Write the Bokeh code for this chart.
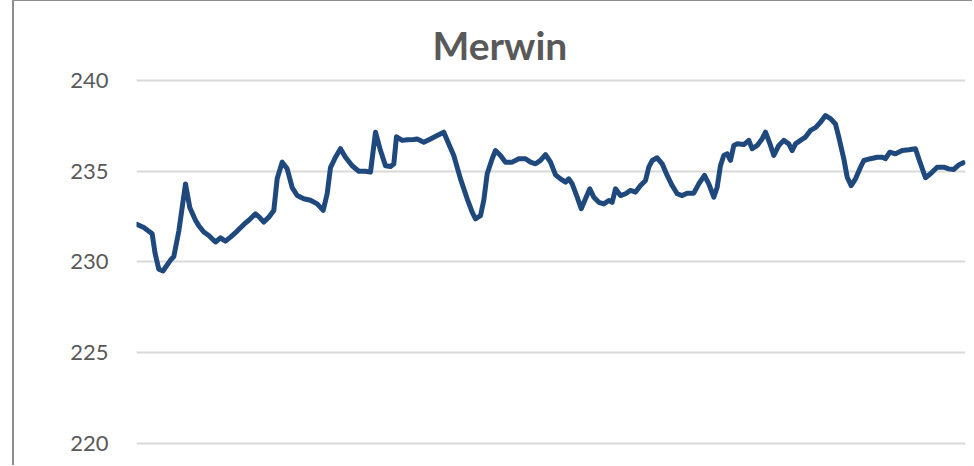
from bokeh.plotting import figure
from bokeh.models import FixedTicker, Range1d, Title
from bokeh.embed import file_html
from bokeh.resources import INLINE

# Day index (0..180) and water level readings
day = [0, 1.44, 3.27, 3.88, 4.71, 5.62, 7.26, 7.98, 9.07, 10.53, 11.46, 12.7, 13.42, 14.51,
       15.6, 17.06, 18.15, 19.24, 20.33, 21.79, 23.23, 24.32, 25.78, 26.5, 27.59, 28.68,
       29.77, 30.51, 31.6, 32.69, 33.78, 34.87, 36.3, 37.76, 39.22, 40.53, 41.4, 42.12,
       43.21, 44.3, 45.39, 46.85, 48.29, 49.75, 50.84, 51.93, 53.02, 54.11, 55.2, 55.92,
       56.5, 57.75, 58.84, 60.27, 61.01, 62.45, 63.91, 65.37, 66.81, 67.9, 68.99, 70.45,
       71.91, 73.0, 73.72, 74.81, 75.53, 76.27, 77.36, 78.08, 79.17, 80.26, 81.72, 83.16,
       84.62, 85.71, 86.8, 87.89, 88.98, 90.07, 91.16, 92.25, 93.34, 94.05, 94.79, 95.88,
       96.76, 97.69, 98.63, 99.5, 100.59, 101.68, 102.77, 103.51, 104.23, 105.32, 106.41,
       107.5, 108.59, 109.68, 110.77, 111.48, 112.22, 113.31, 114.4, 115.49, 116.58,
       117.67, 118.76, 119.85, 121.29, 122.38, 123.62, 124.56, 125.65, 126.39, 127.11,
       127.83, 128.57, 129.29, 130.01, 130.75, 132.19, 133.28, 134.02, 135.11, 136.2,
       136.92, 138.01, 138.73, 139.82, 140.9, 141.99, 142.73, 143.45, 144.54, 145.63,
       146.72, 147.81, 148.9, 149.99, 151.08, 152.17, 152.89, 153.98, 154.72, 155.59,
       156.53, 157.62, 158.34, 159.8, 161.26, 162.35, 163.07, 164.01, 165.25, 166.71,
       168.15, 169.6, 170.32, 171.78, 172.87, 174.33, 175.77, 176.86, 177.95, 179.04, 180.0]

level = [232.07, 231.9, 231.55, 230.5, 229.6, 229.5, 230.1, 230.3, 231.7, 234.3, 233.0, 232.3,
         232.0, 231.65, 231.46, 231.1, 231.33, 231.15, 231.37, 231.7, 232.07, 232.3, 232.65,
         232.5, 232.2, 232.47, 232.84, 234.6, 235.5, 235.13, 234.1, 233.66, 233.48, 233.4,
         233.2, 232.84, 233.76, 235.2, 235.77, 236.24, 235.77, 235.3, 235.0, 235.0, 234.95,
         237.15, 236.14, 235.3, 235.26, 235.4, 236.9, 236.7, 236.73, 236.75, 236.78, 236.6,
         236.78, 236.97, 237.15, 236.5, 235.87, 234.58, 233.48, 232.74, 232.38, 232.55,
         233.4, 234.86, 235.69, 236.14, 235.87, 235.5, 235.5, 235.69, 235.69, 235.5, 235.41,
         235.6, 235.92, 235.5, 234.8, 234.58, 234.4, 234.58, 234.31, 233.57, 232.93, 233.48,
         234.03, 233.57, 233.29, 233.2, 233.39, 233.29, 234.03, 233.66, 233.76, 233.94,
         233.85, 234.21, 234.49, 235.22, 235.59, 235.74, 235.41, 234.77, 234.21, 233.76,
         233.66, 233.79, 233.79, 234.3, 234.77, 234.3, 233.57, 234.12, 235.32, 235.87,
         235.96, 235.6, 236.42, 236.51, 236.47, 236.7, 236.24, 236.42, 236.79, 237.15,
         236.42, 235.87, 236.42, 236.7, 236.51, 236.14, 236.51, 236.7, 236.88, 237.25,
         237.4, 237.7, 238.07, 237.9, 237.6, 236.88, 235.69, 234.67, 234.21, 234.58, 235.22,
         235.59, 235.69, 235.77, 235.77, 235.69, 236.05, 235.96, 236.14, 236.18, 236.24,
         235.69, 234.64, 234.86, 235.22, 235.22, 235.13, 235.1, 235.35, 235.47]

y_ticks = [220, 225, 230, 235, 240]
title_text = "Merwin"

p = figure(width=960, height=465, output_backend="svg", toolbar_location=None,
           x_range=Range1d(-0.15, 180.5), y_range=Range1d(218.73, 240.44),
           min_border_left=122, min_border_right=9, min_border_top=71, min_border_bottom=0)
p.styles = {"margin-left": "12px", "border-left": "2px solid #8e8e8e",
            "border-top": "1px solid #8e8e8e"}

p.title = Title(text=title_text, text_font="Lato", text_font_size="39px",
                text_font_style="bold", text_color="#595959", align="left", offset=296)

p.xaxis.visible = False
p.xgrid.visible = False
p.yaxis.ticker = FixedTicker(ticks=y_ticks)
p.yaxis.axis_line_color = None
p.yaxis.major_tick_line_color = None
p.yaxis.minor_tick_line_color = None
p.yaxis.major_label_standoff = 22
p.yaxis.major_label_text_font = "Lato"
p.yaxis.major_label_text_font_size = "22px"
p.yaxis.major_label_text_color = "#595959"
p.ygrid.ticker = FixedTicker(ticks=y_ticks)
p.ygrid.grid_line_color = "#d9d9d9"
p.ygrid.grid_line_width = 2
p.outline_line_color = None

p.line(day, level, line_color="#1F497D", line_width=5, line_join="round", line_cap="round")

open("out.html", "w").write(file_html(p, INLINE))
